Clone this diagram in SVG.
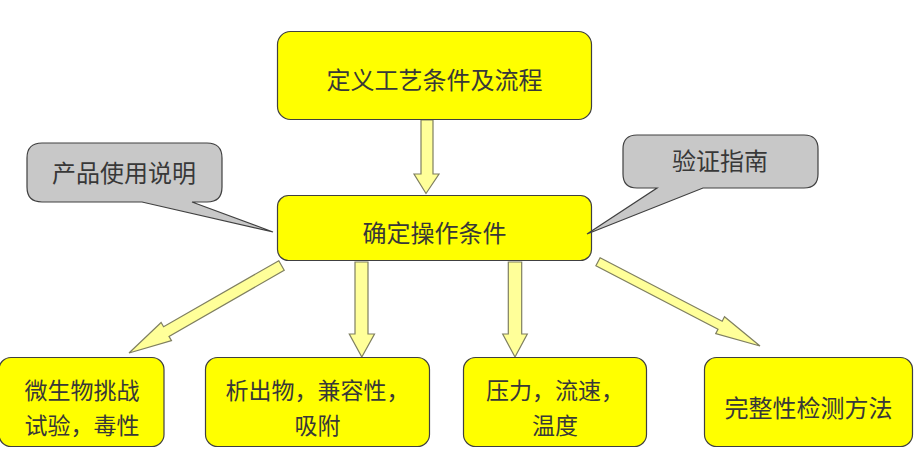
<svg xmlns="http://www.w3.org/2000/svg" width="919" height="454" viewBox="0 0 919 454">
<style>
.box{fill:#FFFF00;stroke:#404040;stroke-width:1.2}
.call{fill:#C8C8C8;stroke:#404040;stroke-width:1.2}
.arr{fill:#FFFF99;stroke:#7F7F60;stroke-width:1.2;stroke-linejoin:miter}
.t{font-family:"Noto Sans CJK SC","Noto Sans",sans-serif;font-size:24px;fill:#383838;text-anchor:middle;dominant-baseline:central}
.t2{font-size:23px}
</style>
<rect width="919" height="454" fill="#FFFFFF"/>
<g id="connectors">
<polygon class="arr" points="421,120 433,120 433,174 439,174 426,193.5 414,174 421,174"/>
<polygon class="arr" points="278.8,260.7 163.6,326.8 161.1,322.5 129,353 171.5,340.7 169.0,336.4 284.2,270.3"/>
<polygon class="arr" points="355,262 368,262 368,334 374.5,334 361.8,357 349.3,334 355,334"/>
<polygon class="arr" points="508.3,262 521.7,262 521.7,334 527.3,334 515,357 502.7,334 508.3,334"/>
<polygon class="arr" points="600.1,257.7 722.2,321.2 724.5,316.8 760,346 715.7,333.6 718.0,329.2 595.9,265.7"/>
</g>
<g id="n-top">
<rect class="box" x="277.5" y="31.5" width="314" height="88" rx="13"/>
<text class="t" x="434.5" y="78">定义工艺条件及流程</text>
</g>
<g id="n-mid">
<rect class="box" x="277.5" y="195.5" width="314" height="65" rx="11"/>
<text class="t" x="434.5" y="231">确定操作条件</text>
</g>
<g id="n-callout-left">
<path class="call" d="M42,143 H207 Q222,143 222,158 V187 Q222,202 207,202 H192 L273,232 L142,202 H42 Q27,202 27,187 V158 Q27,143 42,143 Z"/>
<text class="t" x="124" y="171">产品使用说明</text>
</g>
<g id="n-callout-right">
<path class="call" d="M637,135 H804 Q818,135 818,149 V174 Q818,188 804,188 H703 L587,234 L657,188 H637 Q623,188 623,174 V149 Q623,135 637,135 Z"/>
<text class="t" x="720" y="159">验证指南</text>
</g>
<g id="n-b1">
<rect class="box" x="-1" y="357.5" width="165" height="89" rx="12"/>
<text class="t t2" x="82" y="389">微生物挑战</text>
<text class="t t2" x="82" y="423.5">试验，毒性</text>
</g>
<g id="n-b2">
<rect class="box" x="205.5" y="357.5" width="224" height="89" rx="12"/>
<text class="t t2" x="317.5" y="389">析出物，兼容性，</text>
<text class="t t2" x="317.5" y="423.5">吸附</text>
</g>
<g id="n-b3">
<rect class="box" x="463.5" y="357.5" width="183" height="89" rx="12"/>
<text class="t t2" x="555" y="389">压力，流速，</text>
<text class="t t2" x="555" y="423.5">温度</text>
</g>
<g id="n-b4">
<rect class="box" x="704.5" y="357.5" width="208" height="89" rx="12"/>
<text class="t" x="808.5" y="406">完整性检测方法</text>
</g>
</svg>
